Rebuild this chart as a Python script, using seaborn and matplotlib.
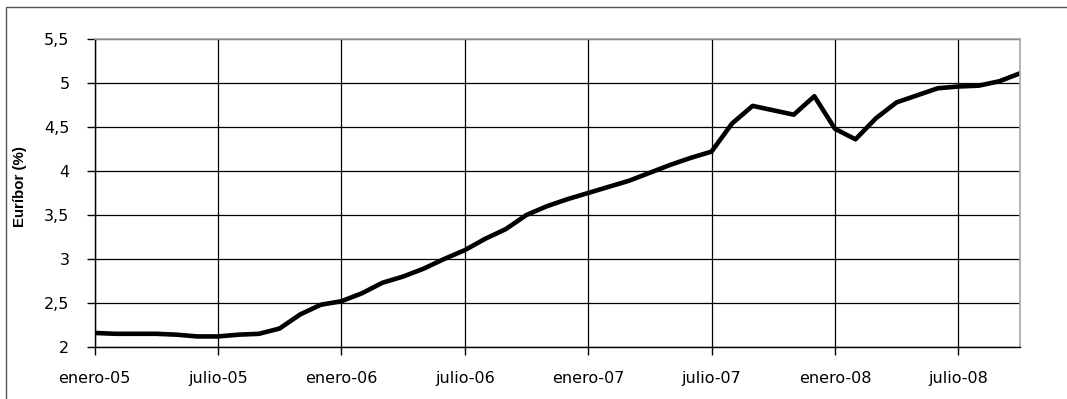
import numpy as np
import pandas as pd
import seaborn as sns
import matplotlib.pyplot as plt
from matplotlib.patches import Rectangle
from matplotlib.ticker import FuncFormatter

# Monthly 3-month Euribor, January 2005 - October 2008
meses = list(range(46))
euribor = [2.16, 2.15, 2.15, 2.15, 2.14, 2.12, 2.12, 2.14, 2.15, 2.21, 2.37, 2.48,
           2.52, 2.61, 2.73, 2.80, 2.89, 3.00, 3.10, 3.23, 3.34, 3.50, 3.60, 3.68,
           3.75, 3.82, 3.89, 3.98, 4.07, 4.15, 4.22, 4.54, 4.74, 4.69, 4.64, 4.85,
           4.48, 4.36, 4.60, 4.78, 4.86, 4.94, 4.96, 4.97, 5.02, 5.11]
tick_pos = [0, 6, 12, 18, 24, 30, 36, 42]
tick_labels = ["enero-05", "julio-05", "enero-06", "julio-06",
               "enero-07", "julio-07", "enero-08", "julio-08"]
y_ticks = [2, 2.5, 3, 3.5, 4, 4.5, 5, 5.5]

df = pd.DataFrame({"mes": meses, "euribor": euribor})

sns.set_theme(style="white")
plt.rcParams["font.family"] = ["DejaVu Sans"]

W, H = 1067, 399
fig = plt.figure(figsize=(W / 100, H / 100), dpi=100)
ax = fig.add_axes([94.5 / W, 1 - 347 / H, (1020 - 94.5) / W, (347 - 39) / H])

sns.lineplot(data=df, x="mes", y="euribor", ax=ax, color="black",
             linewidth=3.3, solid_joinstyle="round", clip_on=True)

ax.set_xlim(0, 45)
ax.set_ylim(2, 5.5)
ax.set_xticks(tick_pos)
ax.set_xticklabels(tick_labels)
ax.set_yticks(y_ticks)
ax.yaxis.set_major_formatter(FuncFormatter(
    lambda v, p: (f"{v:g}").replace(".", ",")))

ax.grid(True, color="black", linewidth=0.9)
ax.set_axisbelow(True)

for side in ("left", "bottom"):
    ax.spines[side].set_color("black")
    ax.spines[side].set_linewidth(1.0)
for side in ("top", "right"):
    ax.spines[side].set_color("#a6a6a6")
    ax.spines[side].set_linewidth(1.2)

ax.tick_params(axis="x", direction="out", length=6, width=1, color="black",
               bottom=True, pad=11, labelsize=11.5, labelcolor="black")
ax.tick_params(axis="y", direction="out", length=6, width=1, color="black",
               left=True, pad=12, labelsize=11.5, labelcolor="black")

ax.set_xlabel("")
ax.set_ylabel("Euríbor (%)", fontsize=10.8, fontweight="bold",
              family="Liberation Sans", color="black")
ax.yaxis.set_label_coords((27 - 94.5) / (1020 - 94.5), (347 - 187) / (347 - 39))

# Outer chart frame
fig.patches.append(Rectangle((6 / W, -0.1), 1.2, 1 - 6.5 / H + 0.1,
                             transform=fig.transFigure, fill=False,
                             edgecolor="#555555", linewidth=1.0))

fig.savefig("out.png", dpi=100)
